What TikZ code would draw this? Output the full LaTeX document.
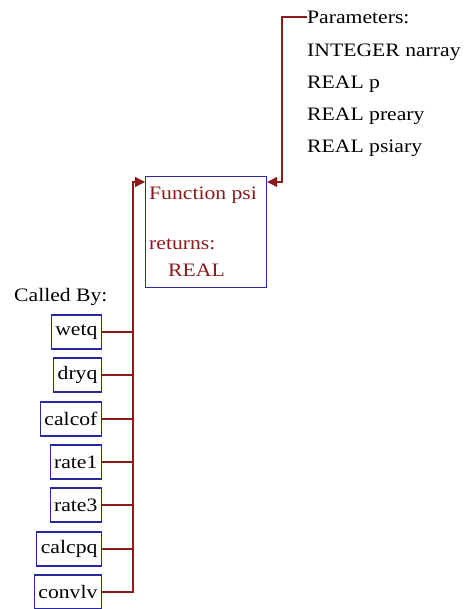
\documentclass[tikz,border=0pt]{standalone}
\usepackage{fontspec}
\setmainfont{Liberation Serif}[FakeStretch=1.14]
\usetikzlibrary{arrows.meta}
\definecolor{edgecol}{RGB}{139,26,26}
\definecolor{boxcol}{RGB}{40,40,160}
\begin{document}
\begin{tikzpicture}[x=1pt,y=-1pt,
  every node/.style={font=\fontsize{19}{22}\selectfont, inner sep=0pt},
  caller/.style={draw=boxcol, line width=1.2pt, minimum height=34pt, inner xsep=4pt, anchor=east},
  edge/.style={draw=edgecol, line width=1.2pt},
  tip/.style={-{Triangle[length=10pt,width=10pt]}}]
\useasboundingbox (0,0) rectangle (471,609);
% main function box
\node[draw=boxcol, line width=1.2pt, minimum width=121pt, minimum height=111pt, anchor=north west] (fn) at (145,176) {};
\node[anchor=west, text=edgecol] (t1) at (149,195) {Function psi};
\node[anchor=west, text=edgecol] (t2) at (149,244) {returns:};
\node[anchor=west, text=edgecol] (t3) at (168,270) {REAL};
% parameters
\node[anchor=west] (p0) at (307,17) {Parameters:};
\node[anchor=west] (p1) at (307,52) {INTEGER narray};
\node[anchor=west] (p2) at (307,84) {REAL p};
\node[anchor=west] (p3) at (307,116) {REAL preary};
\node[anchor=west] (p4) at (307,148) {REAL psiary};
\coordinate (pc) at (282,182);
\draw[edge, tip] (p0.west) -| (pc) -- (fn.north east |- pc);
% called by
\node[anchor=west] (cb) at (14,297) {Called By:};
\node[caller] (c1) at (102,332) {wetq};
\node[caller] (c2) at (102,375) {dryq};
\node[caller] (c3) at (102,419) {calcof};
\node[caller] (c4) at (102,462) {rate1};
\node[caller] (c5) at (102,505) {rate3};
\node[caller] (c6) at (102,549) {calcpq};
\node[caller] (c7) at (102,592) {convlv};
\coordinate (bus) at (133,182);
\draw[edge, tip] (c7.east) -| (bus) -- (fn.north west |- bus);
\foreach \i in {1,...,6} \draw[edge] (c\i.east) -- (c\i.east -| bus);
\end{tikzpicture}
\end{document}
